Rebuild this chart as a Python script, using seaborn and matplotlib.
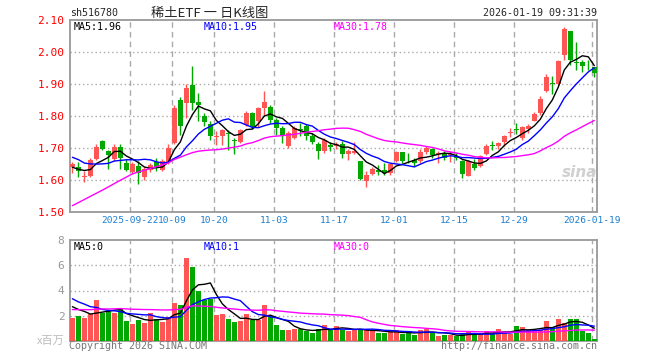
"""Sina-style daily K-line chart for 516780 (rare earth ETF)"""

import numpy as np
import pandas as pd
import matplotlib
matplotlib.use("Agg")
import matplotlib.pyplot as plt
import seaborn as sns

# trading calendar shown on the chart
holidays = ["2025-10-01", "2025-10-02", "2025-10-03", "2025-10-06",
            "2025-10-07", "2025-10-08", "2026-01-01", "2026-01-02"]
dates = [d for d in pd.bdate_range("2025-09-08", "2026-01-19")
         if d.strftime("%Y-%m-%d") not in holidays]

opens = [1.642, 1.640, 1.608, 1.611, 1.667, 1.723, 1.692, 1.666, 1.702, 1.652,
         1.625, 1.645, 1.608, 1.632, 1.655, 1.632, 1.655, 1.716, 1.851, 1.840,
         1.898, 1.843, 1.800, 1.776, 1.734, 1.736, 1.746, 1.725, 1.719, 1.773,
         1.809, 1.785, 1.825, 1.827, 1.789, 1.763, 1.707, 1.731, 1.759, 1.768,
         1.736, 1.712, 1.690, 1.710, 1.705, 1.714, 1.681, 1.684, 1.658, 1.598,
         1.620, 1.632, 1.632, 1.622, 1.658, 1.686, 1.660, 1.663, 1.658, 1.687,
         1.697, 1.681, 1.681, 1.677, 1.676, 1.658, 1.614, 1.651, 1.643, 1.682,
         1.708, 1.705, 1.718, 1.748, 1.758, 1.731, 1.759, 1.785, 1.809, 1.877,
         1.903, 1.900, 1.992, 2.067, 1.968, 1.968, 1.957, 1.952]
highs = [1.655, 1.656, 1.627, 1.669, 1.712, 1.725, 1.695, 1.712, 1.712, 1.665,
         1.655, 1.660, 1.640, 1.653, 1.668, 1.665, 1.712, 1.835, 1.860, 1.900,
         1.955, 1.872, 1.810, 1.785, 1.754, 1.760, 1.755, 1.730, 1.760, 1.816,
         1.812, 1.828, 1.877, 1.835, 1.795, 1.768, 1.752, 1.768, 1.778, 1.776,
         1.746, 1.720, 1.731, 1.720, 1.720, 1.721, 1.697, 1.720, 1.658, 1.627,
         1.642, 1.647, 1.653, 1.653, 1.692, 1.686, 1.684, 1.668, 1.697, 1.705,
         1.700, 1.690, 1.690, 1.690, 1.684, 1.663, 1.663, 1.665, 1.679, 1.712,
         1.721, 1.719, 1.741, 1.761, 1.778, 1.770, 1.776, 1.811, 1.861, 1.932,
         1.924, 1.976, 2.078, 2.067, 2.030, 1.976, 1.976, 1.952]
lows = [1.622, 1.608, 1.595, 1.608, 1.664, 1.695, 1.634, 1.660, 1.634, 1.627,
        1.620, 1.587, 1.600, 1.625, 1.627, 1.628, 1.650, 1.712, 1.742, 1.794,
        1.820, 1.783, 1.768, 1.726, 1.710, 1.708, 1.695, 1.680, 1.715, 1.768,
        1.760, 1.765, 1.800, 1.778, 1.742, 1.716, 1.700, 1.727, 1.736, 1.726,
        1.712, 1.667, 1.685, 1.690, 1.697, 1.668, 1.661, 1.681, 1.601, 1.577,
        1.617, 1.617, 1.617, 1.617, 1.655, 1.653, 1.653, 1.645, 1.653, 1.680,
        1.669, 1.653, 1.664, 1.656, 1.662, 1.606, 1.612, 1.632, 1.641, 1.679,
        1.695, 1.698, 1.707, 1.733, 1.744, 1.725, 1.747, 1.783, 1.804, 1.874,
        1.870, 1.897, 1.974, 1.960, 1.945, 1.937, 1.943, 1.922]
closes = [1.650, 1.627, 1.612, 1.664, 1.704, 1.697, 1.677, 1.703, 1.668, 1.630,
          1.650, 1.622, 1.633, 1.646, 1.642, 1.660, 1.700, 1.826, 1.768, 1.887,
          1.840, 1.835, 1.781, 1.738, 1.737, 1.757, 1.743, 1.722, 1.757, 1.808,
          1.766, 1.825, 1.844, 1.789, 1.763, 1.742, 1.747, 1.763, 1.756, 1.736,
          1.719, 1.690, 1.726, 1.703, 1.714, 1.681, 1.690, 1.690, 1.603, 1.617,
          1.634, 1.624, 1.622, 1.651, 1.689, 1.658, 1.658, 1.653, 1.687, 1.700,
          1.679, 1.684, 1.669, 1.681, 1.668, 1.620, 1.660, 1.637, 1.674, 1.707,
          1.706, 1.716, 1.736, 1.751, 1.755, 1.766, 1.768, 1.806, 1.854, 1.922,
          1.900, 1.971, 2.072, 1.976, 1.965, 1.957, 1.955, 1.934]
# volume, millions of shares
volumes = [1.83, 1.99, 1.83, 2.17, 3.23, 2.22, 2.36, 2.22, 2.52, 1.56,
           1.35, 1.64, 1.43, 2.20, 1.77, 1.51, 1.91, 3.02, 2.83, 6.60,
           5.85, 3.95, 3.23, 3.36, 2.04, 2.12, 1.72, 1.51, 1.56, 2.12,
           1.64, 1.64, 2.83, 1.99, 1.25, 0.85, 0.85, 0.93, 0.98, 0.79,
           0.64, 0.98, 1.25, 0.88, 1.19, 0.90, 0.77, 0.85, 0.98, 0.85,
           0.77, 0.64, 0.64, 0.72, 0.85, 0.53, 0.64, 0.45, 0.85, 0.98,
           0.64, 0.37, 0.45, 0.50, 0.37, 0.53, 0.72, 0.53, 0.53, 0.77,
           0.64, 0.93, 0.72, 0.58, 1.17, 1.09, 0.85, 0.90, 0.90, 1.56,
           1.09, 1.72, 1.43, 1.77, 1.72, 0.77, 0.66, 0.13]

# 29 sessions before the window, only needed to seed the moving averages
pre_close = [1.34, 1.32, 1.37, 1.41, 1.41, 1.37, 1.39, 1.36, 1.33, 1.35,
             1.445, 1.465, 1.485, 1.475, 1.495, 1.515, 1.495, 1.56, 1.66, 1.64,
             1.70, 1.72, 1.69, 1.71, 1.69, 1.66, 1.63, 1.65, 1.61]
pre_vol = [2.1, 1.9, 2.3, 2.0, 1.8, 2.2, 2.0, 1.9, 2.4, 2.1,
           1.8, 2.0, 2.3, 2.2, 1.9, 2.0, 2.1, 2.3, 2.0, 1.9,
           4.5, 3.6, 4.2, 3.8, 3.8, 3.1, 2.6, 3.2, 2.86]

tick_dates = ["2025-09-22", "2025-10-09", "2025-10-20", "2025-11-03", "2025-11-17",
              "2025-12-01", "2025-12-15", "2025-12-29", "2026-01-19"]
tick_labels = ["2025-09-22", "10-09", "10-20", "11-03", "11-17",
               "12-01", "12-15", "12-29", "2026-01-19"]
price_ticks = [1.50, 1.60, 1.70, 1.80, 1.90, 2.00, 2.10]
vol_ticks = [2, 4, 6, 8]

UP, DOWN = "#ff5555", "#00a800"
MA_COLORS = {5: "black", 10: "#0000ff", 30: "#ff00ff"}
MONO = "DejaVu Sans Mono"
GRID = "#aaaaaa"

sns.set_style("white")
plt.rcParams["font.family"] = ["DejaVu Sans Mono", "Noto Sans CJK SC"]

W, H = 660, 360
fig = plt.figure(figsize=(W / 100, H / 100), dpi=100)
ax = fig.add_axes([70 / W, 1 - 212 / H, 527 / W, 192 / H])
axv = fig.add_axes([70 / W, 1 - 341 / H, 527 / W, 101 / H])

x = np.arange(len(dates))
o, h, l, c = map(np.array, (opens, highs, lows, closes))
v = np.array(volumes)
cols = np.where(c >= o, UP, DOWN)

# candles
ax.vlines(x, l, h, colors=cols, lw=1, zorder=3)
body = np.maximum(np.abs(c - o), 0.0025)
ax.bar(x, body, bottom=np.minimum(o, c), width=0.78, color=cols, lw=0, zorder=4)
axv.bar(x, v, width=0.85, color=cols, lw=0, zorder=3)

# moving averages
all_c = pd.Series(pre_close + closes)
all_v = pd.Series(pre_vol + volumes)
n0 = len(pre_close)
for n, col in MA_COLORS.items():
    sns.lineplot(x=x, y=all_c.rolling(n).mean().iloc[n0:].values, ax=ax,
                 color=col, lw=1, zorder=5)
    sns.lineplot(x=x, y=all_v.rolling(n).mean().iloc[n0:].values, ax=axv,
                 color=col, lw=1, zorder=5)

date_str = [d.strftime("%Y-%m-%d") for d in dates]
tick_pos = [date_str.index(d) - 0.35 for d in tick_dates]

for a, lo, hi, ticks in ((ax, 1.50, 2.10, price_ticks), (axv, 0, 8, vol_ticks)):
    a.set_xlim(-0.4, len(dates) - 0.55)
    a.set_ylim(lo, hi)
    a.set_yticks(ticks)
    a.set_xticks(tick_pos)
    for t in ticks:
        if lo < t < hi:
            a.axhline(t, color=GRID, lw=1, ls=(0, (1, 2)), zorder=1)
    for t in tick_pos:
        a.axvline(t, color=GRID, lw=1, ls=(0, (4, 3)), zorder=1)
    for s in a.spines.values():
        s.set_color("#999999")
        s.set_linewidth(1.3)
    a.tick_params(length=0, pad=4)

ax.set_yticklabels([f"{t:.2f}" for t in price_ticks], color="red", fontsize=8,
                   family=MONO)
ax.set_xticklabels(tick_labels, color="#1a7fd0", fontsize=6.8, family=MONO)
ax.tick_params(axis="x", pad=3)
axv.set_yticklabels([str(t) for t in vol_ticks], color="#999999", fontsize=8,
                    family=MONO)
axv.set_xticklabels([])


def txt(px, py, s, **kw):
    kw.setdefault("family", MONO)
    kw.setdefault("fontsize", 7.2)
    fig.text(px / W, 1 - py / H, s, va="center", **kw)


txt(70, 13, "sh516780")
txt(210, 13, "稀土ETF 一 日K线图", ha="center", fontsize=9.5,
    family=["Noto Sans CJK SC", "DejaVu Sans"])
txt(597, 13, "2026-01-19 09:31:39", ha="right")

txt(74, 27, "MA5:1.96", color="black")
txt(204, 27, "MA10:1.95", color="#0000ff")
txt(334, 27, "MA30:1.78", color="#ff00ff")
txt(74, 247, "MA5:0", color="black")
txt(204, 247, "MA10:1", color="#0000ff")
txt(334, 247, "MA30:0", color="#ff00ff")

txt(65, 341, "x百万", ha="right", color="#bbbbbb", fontsize=8,
    family=["Noto Sans CJK SC", "DejaVu Sans"])
txt(69, 346, "Copyright 2026 SINA.COM", color="#777777")
txt(597, 346, "http://finance.sina.com.cn", ha="right", color="#777777")
txt(580, 172, "sina", ha="center", color="#d0d0d0", fontsize=11,
    fontweight="bold", style="italic", family="DejaVu Sans")

fig.savefig("out.png", dpi=100)
